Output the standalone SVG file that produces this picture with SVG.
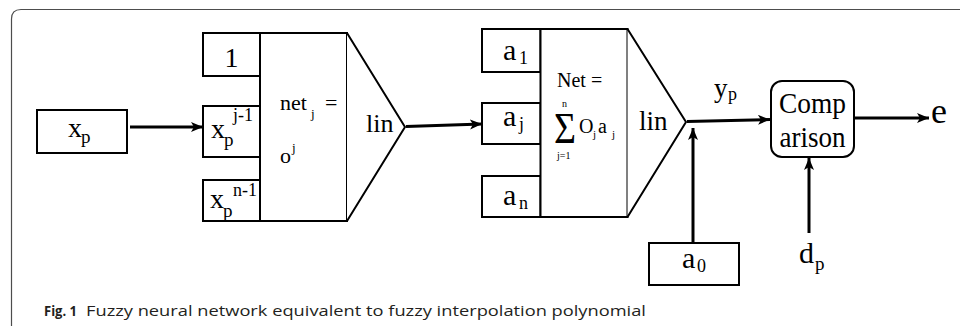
<svg xmlns="http://www.w3.org/2000/svg" width="960" height="326" viewBox="0 0 960 326">
<style>
.box{fill:#fff;stroke:#000;stroke-width:2}
.t{font-family:"Liberation Serif","Times New Roman",serif;fill:#000}
.con{stroke:#000;stroke-width:3;fill:none}
.cap{font-family:"Open Sans","Liberation Sans",sans-serif;fill:#231f20}
</style>
<defs>
<marker id="ah" markerUnits="userSpaceOnUse" markerWidth="14" markerHeight="12" refX="12" refY="5" orient="auto">
<path d="M0,0 L12,5 L0,10 L3,5 z" fill="#000"/>
</marker>
</defs>
<rect width="960" height="326" fill="#fff"/>
<path d="M11.5,326 V19 Q11.5,9.5 21,9.5 H960" fill="none" stroke="#4d4d4d" stroke-width="1.2"/>

<g id="xp">
<rect class="box" x="37" y="110" width="90" height="43"/>
<text class="t" x="68" y="137" font-size="28">x</text>
<text class="t" x="81" y="143" font-size="19">p</text>
</g>

<g id="in1">
<rect class="box" x="203" y="33" width="57" height="43"/>
<text class="t" x="231.5" y="67" font-size="28" text-anchor="middle">1</text>
</g>
<g id="in2">
<rect class="box" x="203" y="106" width="57" height="51"/>
<text class="t" x="211" y="138" font-size="28">x</text>
<text class="t" x="224" y="146" font-size="19">p</text>
<text class="t" x="233" y="121" font-size="18">j-1</text>
</g>
<g id="in3">
<rect class="box" x="203" y="180" width="57" height="41"/>
<text class="t" x="210" y="208" font-size="28">x</text>
<text class="t" x="223" y="217" font-size="19">p</text>
<text class="t" x="233" y="196" font-size="18">n-1</text>
</g>
<g id="neuron1">
<rect class="box" x="260" y="33" width="87" height="188"/>
<path class="box" d="M347,33 L405,127 L347,221"/>
<text class="t" x="280" y="110" font-size="22">net</text>
<text class="t" x="311" y="118" font-size="13">j</text>
<text class="t" x="325" y="110" font-size="22">=</text>
<text class="t" x="280" y="163" font-size="22">o</text>
<text class="t" x="292" y="152" font-size="13">j</text>
<text class="t" x="366" y="132" font-size="26">lin</text>
</g>

<g id="a1">
<rect class="box" x="482" y="29" width="58.5" height="43"/>
<text class="t" x="503" y="60" font-size="30">a</text>
<text class="t" x="519" y="64" font-size="18">1</text>
</g>
<g id="aj">
<rect class="box" x="482" y="103" width="58.5" height="41"/>
<text class="t" x="503" y="126" font-size="30">a</text>
<text class="t" x="519" y="130" font-size="18">j</text>
</g>
<g id="an">
<rect class="box" x="482" y="176" width="58.5" height="41"/>
<text class="t" x="503" y="205" font-size="30">a</text>
<text class="t" x="519" y="209" font-size="18">n</text>
</g>
<g id="neuron2">
<rect class="box" x="540.5" y="29" width="87" height="188"/>
<path class="box" d="M627.5,29 L686,122 L627.5,217"/>
<text class="t" x="557" y="87" font-size="20">Net =</text>
<text class="t" x="562" y="107" font-size="10">n</text>
<text class="t" x="554" y="143" font-size="44" textLength="22" lengthAdjust="spacingAndGlyphs">Σ</text>
<text class="t" x="557" y="159" font-size="10">j=1</text>
<text class="t" x="579" y="133" font-size="20">O</text>
<text class="t" x="593" y="138" font-size="11">j</text>
<text class="t" x="598" y="133" font-size="20">a</text>
<text class="t" x="612" y="138" font-size="11">j</text>
<text class="t" x="639" y="130" font-size="27">lin</text>
</g>

<g id="a0">
<rect class="box" x="649" y="243" width="90" height="42"/>
<text class="t" x="682" y="268" font-size="30">a</text>
<text class="t" x="697" y="272" font-size="18">0</text>
</g>

<g id="yp">
<text class="t" x="714" y="97" font-size="27">y</text>
<text class="t" x="728" y="100" font-size="18">p</text>
</g>

<g id="comparison">
<rect class="box" x="771" y="81" width="83" height="76" rx="11" ry="11"/>
<text class="t" x="812.5" y="113" font-size="30" text-anchor="middle" textLength="67" lengthAdjust="spacingAndGlyphs">Comp</text>
<text class="t" x="812.5" y="147" font-size="30" text-anchor="middle" textLength="66" lengthAdjust="spacingAndGlyphs">arison</text>
</g>

<g id="e">
<text class="t" x="931" y="123" font-size="36">e</text>
</g>
<g id="dp">
<text class="t" x="799" y="263" font-size="30">d</text>
<text class="t" x="815" y="270" font-size="19">p</text>
</g>

<g id="connectors">
<line class="con" x1="130" y1="127" x2="203" y2="127" marker-end="url(#ah)"/>
<line class="con" x1="406" y1="126.5" x2="482" y2="124" marker-end="url(#ah)"/>
<line class="con" x1="687" y1="121.5" x2="770" y2="119.5" marker-end="url(#ah)"/>
<line class="con" x1="693" y1="243" x2="693" y2="128" marker-end="url(#ah)"/>
<line class="con" x1="854" y1="118" x2="929" y2="118" marker-end="url(#ah)"/>
<line class="con" x1="809" y1="233" x2="809" y2="158" marker-end="url(#ah)"/>
</g>

<g id="caption">
<text class="cap" x="44" y="316" font-size="15" font-weight="bold" textLength="33" lengthAdjust="spacingAndGlyphs">Fig. 1</text>
<text class="cap" x="86" y="316" font-size="15" textLength="560" lengthAdjust="spacingAndGlyphs">Fuzzy neural network equivalent to fuzzy interpolation polynomial</text>
</g>
</svg>
